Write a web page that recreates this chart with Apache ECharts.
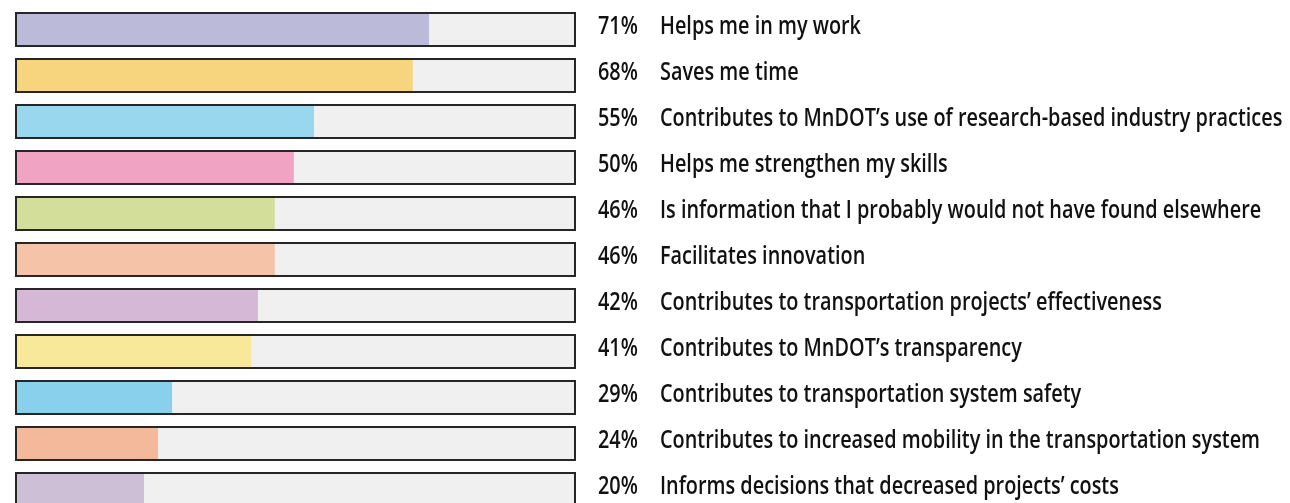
<!DOCTYPE html>
<html>
<head>
<meta charset="utf-8">
<script src="https://cdn.jsdelivr.net/npm/echarts@6/dist/echarts.min.js"></script>
<style>
  html, body { margin: 0; padding: 0; background: #ffffff; overflow: hidden; }
  #chart { width: 1290px; height: 520px; }
</style>
</head>
<body>
<div id="chart"></div>
<script>
// answer texts, top to bottom
var categories = [
  'Helps me in my work',
  'Saves me time',
  'Contributes to MnDOT\u2019s use of research-based industry practices',
  'Helps me strengthen my skills',
  'Is information that I probably would not have found elsewhere',
  'Facilitates innovation',
  'Contributes to transportation projects\u2019 effectiveness',
  'Contributes to MnDOT\u2019s transparency',
  'Contributes to transportation system safety',
  'Contributes to increased mobility in the transportation system',
  'Informs decisions that decreased projects\u2019 costs'
]
// printed percentages
var pctLabels = ['71%', '68%', '55%', '50%', '46%', '46%', '42%', '41%', '29%', '24%', '20%']
// bar lengths as drawn (share of the track)
var barValues = [73.8, 70.9, 53.3, 49.7, 46.3, 46.3, 43.3, 42.1, 28.0, 25.5, 23.0]
var barColors = ['#bbbbd9', '#f7d47e', '#99d7ef', '#f0a3c2', '#d3de9a', '#f5c4a8',
  '#d5b8d5', '#f8e89a', '#88d0ec', '#f4b89b', '#cdc0d6']
var trackMax = 100

var labelFont = '600 26px "Open Sans", sans-serif'
var squeeze = 0.764  // the original uses a condensed face

var chart = echarts.init(document.getElementById('chart'))

var option = {
  backgroundColor: '#ffffff',
  animation: false,
  grid: {
    left: 15,
    top: 6.5,
    width: 561,
    height: 506
  },
  xAxis: {
    type: 'value',
    min: 0,
    max: trackMax,
    show: false
  },
  yAxis: {
    type: 'category',
    data: categories,
    inverse: true,
    show: false
  },
  series: [
    {
      // grey track
      type: 'bar',
      barWidth: 35,
      barGap: '-100%',
      silent: true,
      itemStyle: { color: '#f0f0f0' },
      data: categories.map(function () { return trackMax })
    },
    {
      // coloured fill
      type: 'bar',
      barWidth: 35,
      barGap: '-100%',
      data: barValues.map(function (v, i) {
        return { value: v, itemStyle: { color: barColors[i] } }
      })
    },
    {
      // outline
      type: 'bar',
      barWidth: 35,
      barGap: '-100%',
      silent: true,
      itemStyle: {
        color: 'rgba(0,0,0,0)',
        borderColor: '#262626',
        borderWidth: 2
      },
      data: categories.map(function () { return trackMax })
    },
    {
      // percentage + answer text to the right of each track
      type: 'custom',
      silent: true,
      clip: false,
      data: categories.map(function (c, i) { return [trackMax, i] }),
      encode: { x: 0, y: 1 },
      renderItem: function (params, api) {
        var i = params.dataIndex
        var pos = api.coord([trackMax, i])
        var y = pos[1] - 3
        return {
          type: 'group',
          children: [
            {
              type: 'text',
              x: pos[0] + 22,
              y: y,
              scaleX: squeeze,
              style: {
                text: pctLabels[i],
                font: labelFont,
                fill: '#111111',
                verticalAlign: 'middle'
              }
            },
            {
              type: 'text',
              x: pos[0] + 84,
              y: y,
              scaleX: squeeze,
              style: {
                text: categories[i],
                font: labelFont,
                fill: '#111111',
                verticalAlign: 'middle'
              }
            }
          ]
        }
      }
    }
  ]
}

chart.setOption(option)
</script>
</body>
</html>
